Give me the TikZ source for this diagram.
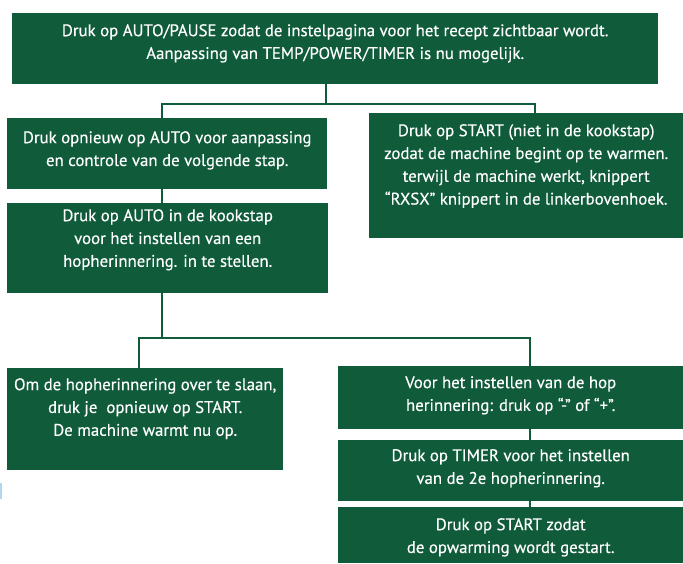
\documentclass[tikz,border=0pt]{standalone}
\usepackage{fontspec}
\setmainfont{PT Sans}[FakeBold=0.4]
\definecolor{stapgroen}{RGB}{16,91,58}
\definecolor{randblauw}{RGB}{175,215,240}
\tikzset{
	stap/.style={fill=stapgroen, inner sep=0pt, anchor=north west},
	tekst/.style={text=white, align=center, inner sep=0pt, anchor=north,
		font=\fontsize{16.8pt}{22.8pt}\selectfont},
	verbind/.style={draw=stapgroen, line width=2.3pt}
}
\begin{document}
\begin{tikzpicture}[x=1pt,y=-1pt]
		\useasboundingbox (0,0) rectangle (683,563);
		% stappen
		\node[stap, minimum width=646pt, minimum height=71pt] (pauze) at (12,13) {};
		\node[tekst, yshift=-11pt] (pauze-t) at (pauze.north) {Druk op AUTO/PAUSE zodat de instelpagina voor het recept zichtbaar wordt.\\Aanpassing van TEMP/POWER/TIMER is nu mogelijk.};
		\node[stap, minimum width=320pt, minimum height=71pt] (opnieuw) at (7,118) {};
		\node[tekst, yshift=-13pt] (opnieuw-t) at (opnieuw.north) {Druk opnieuw op AUTO voor aanpassing\\en controle van de volgende stap.};
		\node[stap, minimum width=321pt, minimum height=90pt] (kookstap) at (7,203) {};
		\node[tekst, yshift=-6pt] (kookstap-t) at (kookstap.north) {Druk op AUTO in de kookstap\\voor het instellen van een\\hopherinnering. in te stellen.};
		\node[stap, minimum width=314pt, minimum height=125pt] (start) at (369,113) {};
		\node[tekst, yshift=-11pt] (start-t) at (start.north) {Druk op START (niet in de kookstap)\\zodat de machine begint op te warmen.\\terwijl de machine werkt, knippert\\“RXSX” knippert in de linkerbovenhoek.};
		\node[stap, minimum width=276pt, minimum height=102pt] (overslaan) at (7,368) {};
		\node[tekst, yshift=-10pt] (overslaan-t) at (overslaan.north) {Om de hopherinnering over te slaan,\\druk je\ \ opnieuw op START.\\De machine warmt nu op.};
		\node[stap, minimum width=345pt, minimum height=63pt] (hopin) at (338,366) {};
		\node[tekst, yshift=-10pt] (hopin-t) at (hopin.north) {Voor het instellen van de hop\\herinnering: druk op “-” of “+”.};
		\node[stap, minimum width=345pt, minimum height=61pt] (timer) at (338,440) {};
		\node[tekst, yshift=-9pt] (timer-t) at (timer.north) {Druk op TIMER voor het instellen\\van de 2e hopherinnering.};
		\node[stap, minimum width=345pt, minimum height=56pt] (opwarm) at (338,507) {};
		\node[tekst, yshift=-11pt] (opwarm-t) at (opwarm.north) {Druk op START zodat\\de opwarming wordt gestart.};
		% verbindingen
		\coordinate (bus1m) at (326,104);
		\coordinate (bus1l) at (162,104);
		\coordinate (bus1r) at (535,104);
		\coordinate (bus2m) at (162,338);
		\coordinate (bus2l) at (139,338);
		\coordinate (bus2r) at (530,338);
		\draw[verbind] (bus1m |- pauze.south) -- (bus1m);
		\draw[verbind] (bus1l |- opnieuw.north) -- (bus1l) -- (bus1r) -- (bus1r |- start.north);
		\draw[verbind] (bus1l |- opnieuw.south) -- (bus1l |- kookstap.north);
		\draw[verbind] (bus2m |- kookstap.south) -- (bus2m);
		\draw[verbind] (bus2l |- overslaan.north) -- (bus2l) -- (bus2r) -- (bus2r |- hopin.north);
		\draw[verbind] (bus2r |- hopin.south) -- (bus2r |- timer.north);
		\draw[verbind] (bus2r |- timer.south) -- (bus2r |- opwarm.north);
		% rand
		\fill[randblauw] (0,483) rectangle (1.5,499);
\end{tikzpicture}
\end{document}
